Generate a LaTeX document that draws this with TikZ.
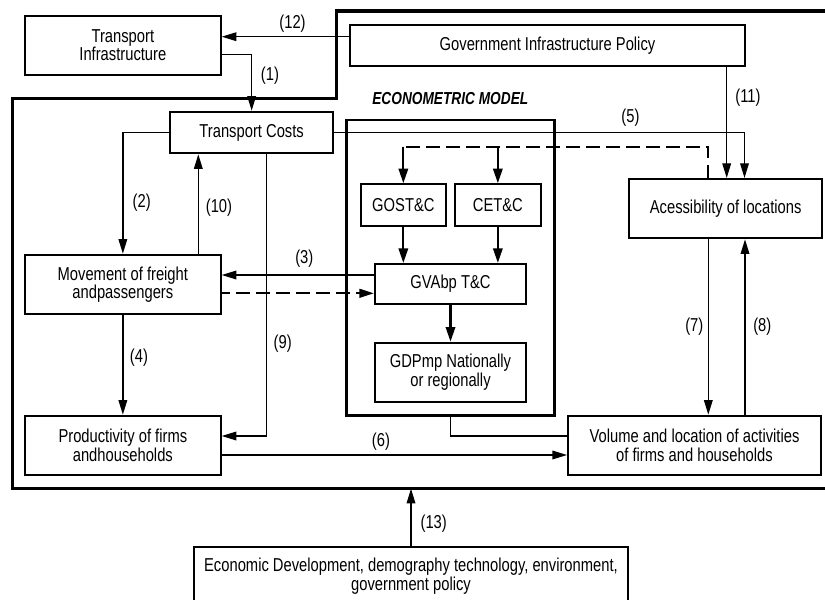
\documentclass[tikz,border=0pt]{standalone}
\usepackage{fontspec}
\setmainfont{Liberation Sans}[FakeStretch=0.79]
\usetikzlibrary{arrows.meta}

\begin{document}
\begin{tikzpicture}[x=0.75pt,y=-0.75pt,
  font=\fontsize{14}{13.8}\selectfont,
  box/.style={draw,line width=1.5pt,inner sep=0pt,align=center},
  ecobox/.style={draw,line width=2.2pt,inner sep=0pt},
  frame/.style={line width=2.5pt},
  tip/.style={-{Triangle[length=11pt,width=6.5pt]}},
  arr/.style={line width=1pt,tip},
  heavy/.style={line width=1.7pt,-{Triangle[length=11pt,width=7pt]}},
  dashline/.style={line width=1.7pt,dash pattern=on 10pt off 5pt},
  tag/.style={inner sep=0pt}
]
\useasboundingbox (0,0) rectangle (825,600);

% outer frame of the transport system
\draw[frame] (825,11) -- (336.7,11) -- (336.7,98.3) -- (12.3,98.3)
  -- (12.3,488.7) -- (825,488.7);

% boxes (sizes in pt)
\node[box,minimum width=146.8pt,minimum height=44.5pt] (ti) at (122.85,45.35) {Transport\\Infrastructure};
\node[box,minimum width=296.25pt,minimum height=30.5pt] (gip) at (547.5,45.35) {Government Infrastructure Policy};
\node[box,minimum width=122.5pt,minimum height=31.2pt] (tc) at (251.65,132.5) {Transport Costs};
\node[box,minimum width=146.8pt,minimum height=44.7pt] (mov) at (122.85,284.5) {Movement of freight\\andpassengers};
\node[box,minimum width=146.8pt,minimum height=44.5pt] (prod) at (122.85,445.35) {Productivity of firms\\andhouseholds};
\node[ecobox,minimum width=155.7pt,minimum height=221.6pt] (eco) at (450.5,267.75) {};
\node[font=\fontsize{13}{13}\selectfont\bfseries\itshape] (ecotitle) at (450.3,99) {ECONOMETRIC MODEL};
\node[box,minimum width=64pt,minimum height=31.3pt] (gost) at (403.35,205.15) {GOST\&C};
\node[box,minimum width=64.3pt,minimum height=31.3pt] (cet) at (497.85,205.15) {CET\&C};
\node[box,minimum width=113.25pt,minimum height=30.2pt] (gva) at (450.5,284.15) {GVAbp T\&C};
\node[box,minimum width=113.25pt,minimum height=44.25pt] (gdp) at (450.5,372.2) {GDPmp Nationally\\or regionally};
\node[box,minimum width=144.5pt,minimum height=44.5pt] (acc) at (725.65,208.65) {Acessibility of locations};
\node[box,minimum width=189.75pt,minimum height=44.5pt] (vol) at (694.5,445.35) {Volume and location of activities\\of firms and households};
\node[box,minimum width=325pt,minimum height=44.1pt] (ext) at (411,576.1) {Economic Development, demography technology, environment,\\government policy};

% connectors
\coordinate (c13) at (ext.north |- 0,488.7);
\coordinate (dg) at (gost.north |- 0,146.7);
\coordinate (dc) at (cet.north |- 0,146.7);

\draw[arr] (gip.west |- 0,36.7) -- (ti.east |- 0,36.7);
\draw[arr] (ti.east |- 0,54.3) -| (tc.north);
\draw[arr] (gip.south -| 726.7,0) -- (acc.north -| 726.7,0);
\draw[arr] (tc.east) -| (acc.north -| 744.5,0);
\draw[arr] (tc.west) -| (mov.north);
\draw[arr] (mov.north -| 198.3,0) -- (tc.south -| 198.3,0);
\draw[arr] (gva.west |- 0,275) -- (mov.east |- 0,275);
\draw[arr] (mov.south) -- (prod.north);
\draw[arr] (tc.south -| 266.7,0) |- (prod.east |- 0,436);
\draw[arr] (prod.east |- 0,455) -- (vol.west |- 0,455);
\draw[line width=1pt] (eco.south) |- (vol.west |- 0,436);
\draw[arr] (acc.south -| 708.3,0) -- (vol.north -| 708.3,0);
\draw[arr] (vol.north -| 745,0) -- (acc.south -| 745,0);
\draw[arr] (ext.north) -- (c13);

% econometric model links
\draw[dashline] (acc.north -| 708.3,0) |- (dg);
\draw[heavy] (dg) -- (gost.north);
\draw[heavy] (dc) -- (cet.north);
\draw[heavy] (gost.south) -- (gva.north -| gost.south);
\draw[heavy] (cet.south) -- (gva.north -| cet.south);
\draw[heavy] (gva.south) -- (gdp.north);
\draw[dashline,dash phase=4pt,tip] (mov.east |- 0,293.3) -- (gva.west |- 0,293.3);

% link numbers
\node[tag] (l1) at (270,76) {(1)};
\node[tag] (l2) at (141.7,202.5) {(2)};
\node[tag] (l3) at (304.3,258.8) {(3)};
\node[tag] (l4) at (139,357.5) {(4)};
\node[tag] (l5) at (630.5,117.5) {(5)};
\node[tag] (l6) at (381,441.7) {(6)};
\node[tag] (l7) at (694.3,326.7) {(7)};
\node[tag] (l8) at (762.3,326.7) {(8)};
\node[tag] (l9) at (282.7,343.3) {(9)};
\node[tag] (l10) at (219,208) {(10)};
\node[tag] (l11) at (748,97.5) {(11)};
\node[tag] (l12) at (292.5,23.3) {(12)};
\node[tag] (l13) at (433.7,523.3) {(13)};
\end{tikzpicture}
\end{document}
